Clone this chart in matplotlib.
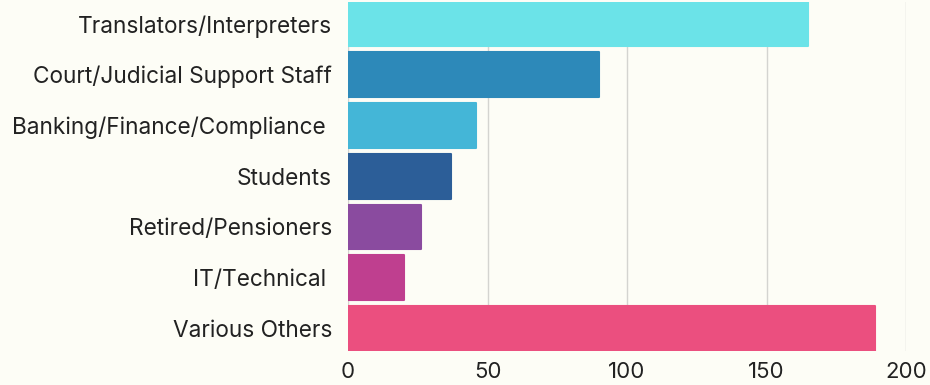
import matplotlib.pyplot as plt

categories = [
    'Translators/Interpreters', 'Court/Judicial Support Staff',
    'Banking/Finance/Compliance ', 'Students', 'Retired/Pensioners',
    'IT/Technical ', 'Various Others'
]
counts = [165, 90, 46, 37, 26, 20, 189]
bar_colors = ['#6be3e8', '#2d89b9', '#44b6d7', '#2c5e98', '#8a4b9f', '#bf3f8f', '#eb4f7f']
x_ticks = [0, 50, 100, 150, 200]

bg = '#fdfdf6'
plt.rcParams['font.family'] = ['Inter', 'DejaVu Sans']

fig = plt.figure(figsize=(9.3, 3.85), dpi=100, facecolor=bg)
ax = fig.add_axes([0.3742, 0.089, 0.6, 0.9066], facecolor=bg)

ypos = list(range(len(categories)))
ax.barh(ypos, counts, height=0.88, color=bar_colors, edgecolor=bar_colors,
        linewidth=1.5, joinstyle='round', zorder=3)

ax.set_ylim(len(categories) - 0.56, -0.44)
ax.set_xlim(0, 200)
ax.set_yticks(ypos)
ax.set_yticklabels(categories, fontsize=16.3, color='#222222')
ax.set_xticks(x_ticks)
ax.set_xticklabels([str(t) for t in x_ticks], fontsize=16, color='#222222')
ax.tick_params(axis='both', length=0)
ax.tick_params(axis='y', pad=11.5)
ax.tick_params(axis='x', pad=8)

ax.grid(axis='x', color='#d4d4d0', linewidth=1, zorder=0)
ax.grid(axis='y', visible=False)
for s in ax.spines.values():
    s.set_visible(False)

fig.savefig('out.png', dpi=100, facecolor=bg)
plt.close()
